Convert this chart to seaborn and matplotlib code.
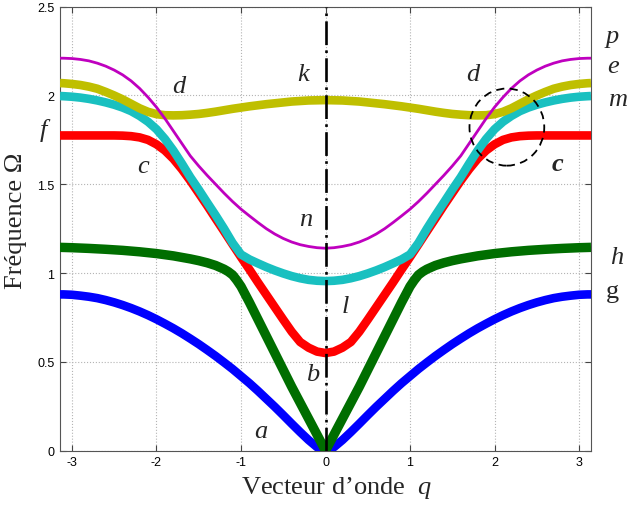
import numpy as np
import pandas as pd
import matplotlib
matplotlib.use("Agg")
import matplotlib.pyplot as plt
from matplotlib.patches import Ellipse
import seaborn as sns

# Wave-vector samples (half Brillouin zone, q >= 0); curves are even in q
q_half = [0.0, 0.1, 0.2, 0.3, 0.4, 0.5, 0.6, 0.7, 0.8, 0.9, 1.0, 1.1, 1.2, 1.3, 1.4, 1.5,
          1.6, 1.7, 1.8, 1.9, 2.0, 2.1, 2.2, 2.3, 2.4, 2.5, 2.6, 2.7, 2.8, 2.9, 3.0, 3.1, np.pi]

# Branch frequencies Omega(q) on q_half
omega_a = [0.0, 0.02, 0.06, 0.105, 0.152, 0.2, 0.247, 0.292, 0.337, 0.38, 0.42, 0.46, 0.497,
           0.533, 0.567, 0.6, 0.631, 0.661, 0.689, 0.715, 0.740, 0.763, 0.784, 0.803, 0.820,
           0.835, 0.848, 0.859, 0.867, 0.873, 0.878, 0.880, 0.880]
omega_l = [0.55, 0.558, 0.58, 0.612, 0.67, 0.738, 0.808, 0.878, 0.948, 1.02, 1.09, 1.162,
           1.235, 1.307, 1.38, 1.45, 1.52, 1.585, 1.643, 1.69, 1.725, 1.75, 1.764, 1.771,
           1.774, 1.775, 1.775, 1.775, 1.775, 1.775, 1.775, 1.775, 1.775]
omega_n = [1.14, 1.143, 1.15, 1.16, 1.175, 1.195, 1.22, 1.25, 1.285, 1.322, 1.36, 1.403,
           1.45, 1.50, 1.55, 1.603, 1.66, 1.73, 1.80, 1.87, 1.934, 1.99, 2.04, 2.082, 2.116,
           2.143, 2.165, 2.182, 2.195, 2.203, 2.208, 2.21, 2.21]
omega_m = [0.955, 0.957, 0.962, 0.971, 0.983, 0.998, 1.015, 1.034, 1.055, 1.077, 1.105,
           1.17, 1.25, 1.325, 1.397, 1.47, 1.54, 1.617, 1.69, 1.755, 1.81, 1.852, 1.885,
           1.912, 1.932, 1.948, 1.961, 1.972, 1.981, 1.988, 1.993, 1.996, 1.997]
omega_k = [1.974, 1.973, 1.972, 1.969, 1.966, 1.961, 1.956, 1.951, 1.945, 1.939, 1.932,
           1.925, 1.917, 1.909, 1.902, 1.896, 1.892, 1.889, 1.888, 1.889, 1.895, 1.908,
           1.928, 1.953, 1.978, 2.0, 2.02, 2.038, 2.05, 2.059, 2.065, 2.069, 2.07]

# Branch b/h rises linearly then saturates; sampled more densely around the bend
q_b = [0.0, 0.1, 0.2, 0.3, 0.4, 0.5, 0.6, 0.7, 0.8, 0.9, 0.95, 1.0, 1.05, 1.1, 1.15, 1.2,
       1.3, 1.4, 1.5, 1.6, 1.8, 2.0, 2.2, 2.4, 2.6, 2.8, 3.0, np.pi]
omega_b = [0.0, 0.09, 0.18, 0.27, 0.36, 0.455, 0.55, 0.645, 0.74, 0.835, 0.88, 0.925, 0.96,
           0.99, 1.008, 1.022, 1.043, 1.058, 1.07, 1.08, 1.097, 1.11, 1.12, 1.128, 1.134,
           1.139, 1.143, 1.145]

x_ticks = [-3, -2, -1, 0, 1, 2, 3]
y_ticks = [0, 0.5, 1, 1.5, 2, 2.5]
y_tick_labels = ["0", "0.5", "1", "1.5", "2", "2.5"]


def mirror(q, w):
    q = np.asarray(q, float)
    w = np.asarray(w, float)
    return np.concatenate([-q[::-1], q[1:]]), np.concatenate([w[::-1], w[1:]])


sns.set_style("ticks")
plt.rcParams["font.family"] = ["Liberation Sans", "DejaVu Sans"]
plt.rcParams["mathtext.fontset"] = "custom"
plt.rcParams["mathtext.rm"] = "Liberation Serif"
plt.rcParams["mathtext.it"] = "Liberation Serif:italic"

fig = plt.figure(figsize=(6.29, 5.06), dpi=100)
ax = fig.add_axes([0.0954, 0.1073, 0.8442, 0.8775])

branches = [
    ("red", q_half, omega_l, "#ff0000", 6.2),
    ("cyan", q_half, omega_m, "#19c0c0", 6.2),
    ("blue", q_half, omega_a, "#0000ff", 6.2),
    ("green", q_b, omega_b, "#006e00", 6.8),
    ("olive", q_half, omega_k, "#bfbf00", 6.2),
    ("magenta", q_half, omega_n, "#bf00bf", 2.0),
]
for name, qs, ws, col, lw in branches:
    qq, ww = mirror(qs, ws)
    df = pd.DataFrame({"q": qq, "omega": ww})
    sns.lineplot(data=df, x="q", y="omega", sort=False, estimator=None,
                 color=col, linewidth=lw, ax=ax, zorder=3,
                 solid_capstyle="butt", solid_joinstyle="round")

ax.axvline(0, color="black", linewidth=1.9, linestyle=(0, (9, 2, 1, 2)), zorder=4)

ax.add_patch(Ellipse((2.146, 1.822), 0.885, 0.434, fill=False, edgecolor="black",
                     linewidth=1.3, linestyle=(0, (4.5, 3)), zorder=5))

ax.set_xlim(-np.pi, np.pi)
ax.set_ylim(0, 2.5)
ax.set_xticks(x_ticks)
ax.set_xticklabels([str(t) for t in x_ticks])
ax.set_yticks(y_ticks)
ax.set_yticklabels(y_tick_labels)
ax.grid(True, color="#b4b4b4", linestyle=":", linewidth=0.8, zorder=0)
ax.tick_params(direction="in", length=4, width=0.8, color="#444444",
               labelsize=9, top=True, right=True, pad=4, labelcolor="black")
for s in ax.spines.values():
    s.set_color("#555555")
    s.set_linewidth(0.8)

serif = "Liberation Serif"
ax.set_xlabel("Vecteur d’onde  $q$", fontsize=19, family=serif)
ax.xaxis.set_label_coords(0.52, -0.053)
ax.set_ylabel("Fréquence Ω", fontsize=19, family=serif)
ax.yaxis.set_label_coords(-0.063, 0.52)

letters = [
    ("p", 3.397, 2.334, "italic", "normal"),
    ("e", 3.397, 2.165, "italic", "normal"),
    ("m", 3.456, 1.980, "italic", "normal"),
    ("c", 2.748, 1.619, "italic", "bold"),
    ("h", 3.444, 1.091, "italic", "normal"),
    ("g", 3.397, 0.900, "normal", "normal"),
    ("f", -3.333, 1.811, "italic", "normal"),
    ("a", -0.771, 0.111, "italic", "normal"),
    ("b", -0.157, 0.432, "italic", "normal"),
    ("l", 0.233, 0.815, "italic", "normal"),
    ("n", -0.240, 1.305, "italic", "normal"),
    ("k", -0.263, 2.121, "italic", "normal"),
    ("d", -1.739, 2.054, "italic", "normal"),
    ("d", 1.744, 2.121, "italic", "normal"),
    ("c", -2.164, 1.603, "italic", "normal"),
]
for txt, x, y, style, weight in letters:
    ax.text(x, y, txt, fontsize=19, family=serif, style=style, weight=weight,
            ha="center", va="center", clip_on=False, zorder=6)

fig.savefig("out.png", dpi=100)
